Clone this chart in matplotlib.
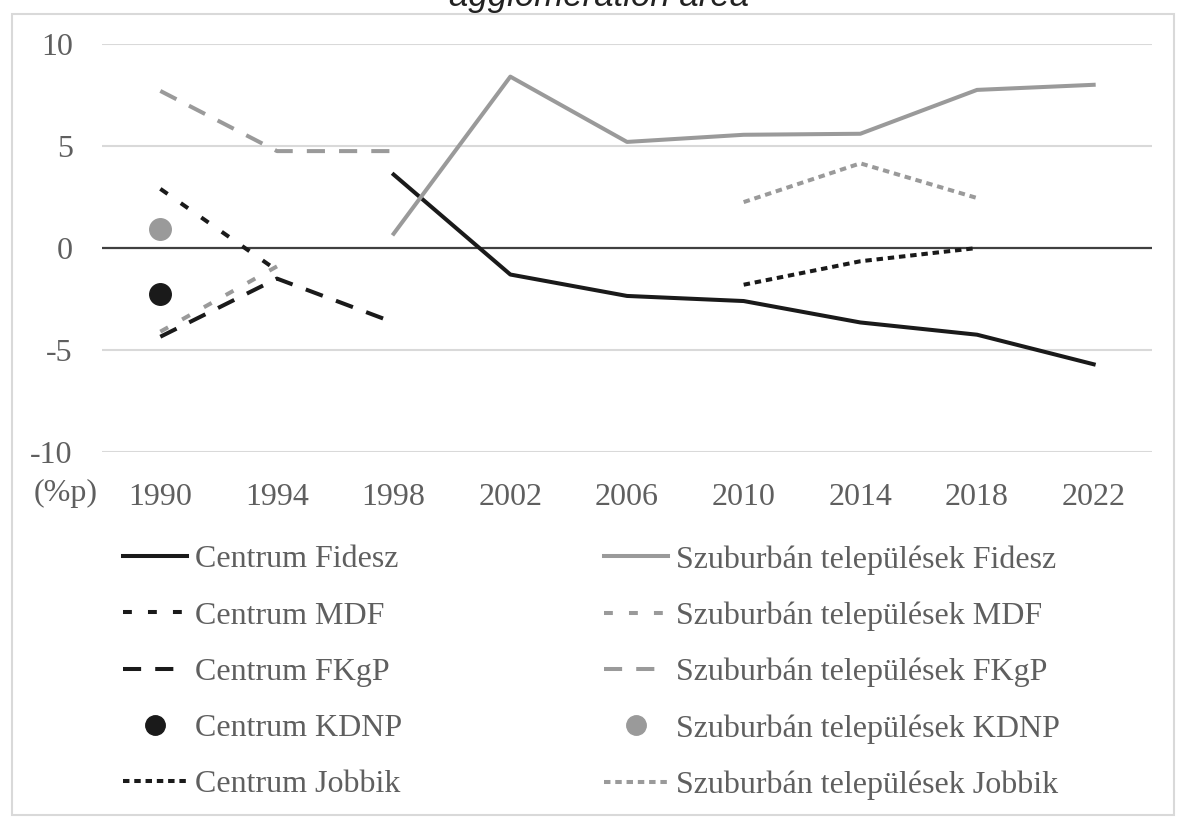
import numpy as np
import matplotlib.pyplot as plt
from matplotlib.lines import Line2D
from matplotlib.patches import Rectangle

# Data (percentage point differences)
nan = np.nan
years = [1990, 1994, 1998, 2002, 2006, 2010, 2014, 2018, 2022]

centrum_fidesz = [nan, nan, 3.6, -1.3, -2.35, -2.6, -3.65, -4.25, -5.7]
szub_fidesz = [nan, nan, 0.7, 8.4, 5.2, 5.55, 5.6, 7.75, 8.0]
centrum_mdf = [2.9, -1.1, nan, nan, nan, nan, nan, nan, nan]
szub_mdf = [-4.1, -0.9, nan, nan, nan, nan, nan, nan, nan]
centrum_fkgp = [-4.35, -1.5, -3.65, nan, nan, nan, nan, nan, nan]
szub_fkgp = [7.7, 4.75, 4.75, nan, nan, nan, nan, nan, nan]
centrum_kdnp = [-2.25, nan, nan, nan, nan, nan, nan, nan, nan]
szub_kdnp = [0.95, nan, nan, nan, nan, nan, nan, nan, nan]
centrum_jobbik = [nan, nan, nan, nan, nan, -1.8, -0.65, 0.0, nan]
szub_jobbik = [nan, nan, nan, nan, nan, 2.25, 4.15, 2.45, nan]

yticks = [-10, -5, 0, 5, 10]

BLACK = "#1a1a1a"
GREY = "#9a9a9a"
TEXT = "#5f5f5f"
FONT = "Liberation Serif"
FS = 23

plt.rcParams["axes.unicode_minus"] = False

W, H = 1186, 822
fig = plt.figure(figsize=(W / 100, H / 100), dpi=100)
ax = fig.add_axes([102 / W, 1 - 452 / H, (1152 - 102) / W, (452 - 44) / H])

lw = 2.9
styles = {
    "solid": dict(linestyle="-"),
    "mdf": dict(linestyle=(0, (2.2, 4.0))),
    "fkgp": dict(linestyle=(0, (4.5, 3.5))),
    "jobbik": dict(linestyle=(0, (1.6, 1.2))),
}

# gridlines and zero axis line
for v in yticks:
    if v == 0:
        ax.axhline(v, color="#404040", lw=1.6, zorder=1)
    else:
        ax.axhline(v, color="#d9d9d9", lw=1.5, zorder=0)

series = [
    ("Centrum Fidesz", centrum_fidesz, BLACK, "solid"),
    ("Centrum MDF", centrum_mdf, BLACK, "mdf"),
    ("Centrum FKgP", centrum_fkgp, BLACK, "fkgp"),
    ("Centrum KDNP", centrum_kdnp, BLACK, "dot"),
    ("Centrum Jobbik", centrum_jobbik, BLACK, "jobbik"),
    ("Szuburbán települések Fidesz", szub_fidesz, GREY, "solid"),
    ("Szuburbán települések MDF", szub_mdf, GREY, "mdf"),
    ("Szuburbán települések FKgP", szub_fkgp, GREY, "fkgp"),
    ("Szuburbán települések KDNP", szub_kdnp, GREY, "dot"),
    ("Szuburbán települések Jobbik", szub_jobbik, GREY, "jobbik"),
]

handles = []
for name, vals, col, st in series:
    if st == "dot":
        ax.plot(years, vals, linestyle="none", marker="o", ms=15.5,
                color=col, zorder=3)
        h = Line2D([], [], linestyle="none", marker="o", ms=14, color=col)
    else:
        ax.plot(years, vals, color=col, lw=lw, zorder=2, **styles[st])
        h = Line2D([], [], color=col, lw=lw, **styles[st])
    handles.append((h, name))

ax.set_xlim(1988, 2024)
ax.set_ylim(-10, 10)
ax.set_yticks(yticks)
ax.set_xticks(years)
ax.tick_params(length=0, labelsize=FS, labelcolor=TEXT)
ax.tick_params(axis="y", pad=21)
ax.tick_params(axis="x", pad=22)
for lab in ax.get_xticklabels() + ax.get_yticklabels():
    lab.set_fontfamily(FONT)
for s in ax.spines.values():
    s.set_visible(False)

fig.text(66 / W, 1 - 493 / H, "(%p)", ha="center", va="center",
         fontsize=FS, color=TEXT, family=FONT)

# two legend columns
for i, x0 in enumerate([123, 604]):
    hs = handles[i * 5:(i + 1) * 5]
    leg = fig.legend([h for h, _ in hs], [n for _, n in hs],
                     loc="upper left", bbox_to_anchor=(x0 / W, 1 - 545 / H),
                     frameon=False, borderpad=0, borderaxespad=0,
                     handlelength=2.0, handletextpad=0.25, labelspacing=0.84,
                     prop={"family": FONT, "size": FS}, labelcolor=TEXT)

# outer frame of the chart
fig.patches.append(Rectangle((12 / W, 1 - 815 / H), (1174 - 12) / W, (815 - 14) / H,
                             transform=fig.transFigure, fill=False,
                             edgecolor="#d9d9d9", lw=1.5))

# title cut off at the top of the picture
fig.text(0.505, 1 - 6 / H, "agglomeration area", ha="center", va="baseline",
         fontsize=25, style="italic", family="Liberation Sans", color="#222222")

fig.savefig("out.png", dpi=100)
